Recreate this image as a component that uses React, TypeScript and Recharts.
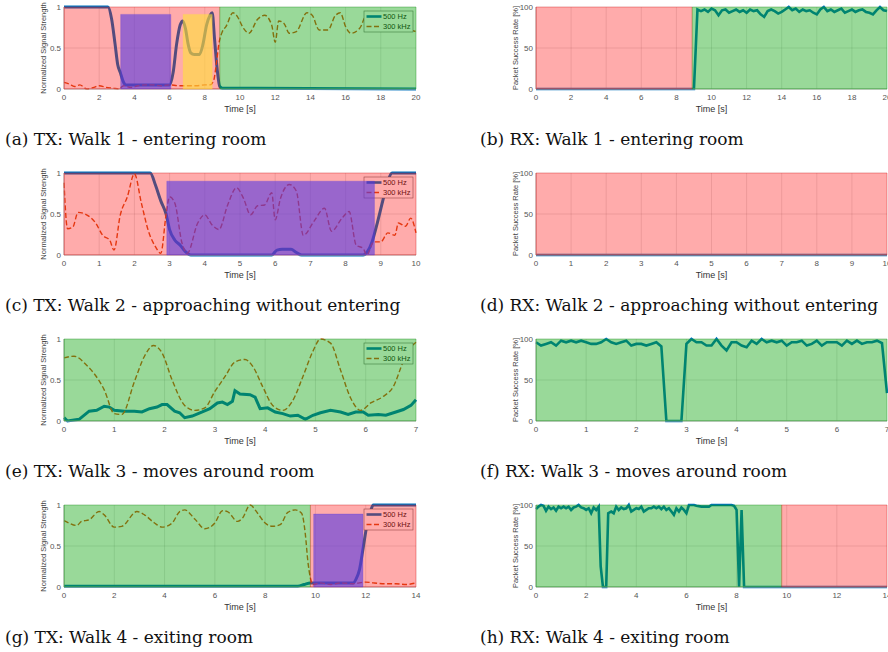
import React from "react";
import * as Recharts from "recharts";
import { CartesianGrid, ComposedChart, Line, ReferenceArea, XAxis, YAxis } from "recharts";

type Pt = [number, number];
type ZoneKind = "red" | "green" | "purple" | "yellow";
type Zone = { from: number; to: number; top?: number; kind: ZoneKind };

// ---- data ----
const ticks20 = [0, 2, 4, 6, 8, 10, 12, 14, 16, 18, 20];
const ticks10 = [0, 1, 2, 3, 4, 5, 6, 7, 8, 9, 10];
const ticks7 = [0, 1, 2, 3, 4, 5, 6, 7];
const ticks14 = [0, 2, 4, 6, 8, 10, 12, 14];
const txTicksY = [0, 0.5, 1];
const rxTicksY = [0, 50, 100];

const txWalk1Low: Pt[] = [
  [0, 1], [2.5, 1], [2.7, 0.86], [2.9, 0.55], [3.05, 0.3], [3.2, 0.2], [3.35, 0.1], [3.5, 0.05],
  [4.5, 0.05], [6.0, 0.05], [6.2, 0.2], [6.4, 0.55], [6.6, 0.78], [6.75, 0.83], [6.9, 0.74],
  [7.05, 0.55], [7.2, 0.44], [7.4, 0.42], [7.7, 0.42], [7.9, 0.55], [8.1, 0.78], [8.3, 0.9],
  [8.42, 0.93], [8.55, 0.62], [8.7, 0.25], [8.85, 0.03], [9.0, 0.01], [20, 0.0],
];
const txWalk1High: Pt[] = [
  [0, 0.08], [0.3, 0.06], [0.6, 0.03], [0.9, 0.05], [1.3, 0.0], [1.7, 0.02], [2.0, 0.04], [2.4, 0.02],
  [2.8, 0.01], [3.1, 0.0], [3.4, 0.04], [3.8, 0.02], [4.2, 0.04], [4.6, 0.05], [5.0, 0.05], [5.5, 0.04],
  [6.0, 0.05], [6.5, 0.04], [7.0, 0.04], [7.5, 0.04], [8.0, 0.05], [8.3, 0.05], [8.5, 0.1], [8.65, 0.3],
  [8.8, 0.55], [9.0, 0.7], [9.2, 0.76], [9.6, 0.93], [9.8, 0.9], [10.2, 0.74], [10.5, 0.68], [11.0, 0.85],
  [11.4, 0.9], [11.8, 0.78], [12.0, 0.57], [12.2, 0.83], [12.5, 0.8], [12.8, 0.68], [13.2, 0.7],
  [13.8, 0.93], [14.1, 0.9], [14.5, 0.72], [15.0, 0.72], [15.4, 0.89], [15.7, 0.93], [16.0, 0.76],
  [16.3, 0.68], [16.8, 0.74], [17.3, 0.95], [17.6, 0.9], [18.2, 0.84], [18.8, 0.78], [19.4, 0.74], [20, 0.7],
];
const txWalk1Zones: Zone[] = [
  { from: 0, to: 8.85, kind: "red" },
  { from: 8.85, to: 20, kind: "green" },
  { from: 3.22, to: 6.07, top: 0.91, kind: "purple" },
  { from: 6.77, to: 8.42, top: 0.91, kind: "yellow" },
];

const rxWalk1: Pt[] = [
  [0, 0], [9.0, 0], [9.2, 97], [9.4, 95], [9.6, 97], [9.8, 94], [10.0, 98], [10.2, 96], [10.4, 90],
  [10.6, 96], [10.8, 97], [11.0, 93], [11.2, 95], [11.4, 97], [11.6, 94], [11.8, 96], [12.0, 93],
  [12.2, 97], [12.4, 95], [12.6, 96], [12.8, 91], [13.0, 88], [13.2, 95], [13.4, 97], [13.6, 95],
  [13.8, 92], [14.0, 94], [14.2, 97], [14.4, 100], [14.6, 96], [14.8, 98], [15.0, 94], [15.2, 97],
  [15.4, 95], [15.6, 96], [15.8, 93], [16.0, 91], [16.2, 97], [16.4, 100], [16.6, 95], [16.8, 97],
  [17.0, 94], [17.2, 96], [17.4, 98], [17.6, 93], [17.8, 95], [18.0, 97], [18.2, 94], [18.4, 96],
  [18.6, 97], [18.8, 94], [19.0, 93], [19.2, 91], [19.4, 96], [19.6, 100], [19.8, 96], [20, 95],
];
const rxWalk1Zones: Zone[] = [
  { from: 0, to: 8.9, kind: "red" },
  { from: 8.9, to: 20, kind: "green" },
];

const txWalk2Low: Pt[] = [
  [0, 1], [2.45, 1], [2.6, 0.85], [2.75, 0.66], [2.9, 0.5], [3.0, 0.31], [3.15, 0.18], [3.3, 0.12],
  [3.45, 0.04], [3.6, 0.0], [5.9, 0.0], [6.05, 0.06], [6.2, 0.07], [6.45, 0.07], [6.6, 0.03],
  [6.75, 0.0], [8.5, 0.0], [8.62, 0.04], [8.75, 0.16], [8.9, 0.39], [9.05, 0.65], [9.2, 0.9],
  [9.32, 1.0], [10, 1.0],
];
const txWalk2High: Pt[] = [
  [0, 0.88], [0.1, 0.32], [0.25, 0.34], [0.4, 0.52], [0.6, 0.5], [0.9, 0.39], [1.1, 0.24], [1.3, 0.18],
  [1.42, 0.06], [1.6, 0.49], [1.8, 0.71], [2.0, 0.99], [2.2, 0.63], [2.4, 0.29], [2.6, 0.1], [2.75, 0.02],
  [2.9, 0.49], [3.0, 0.71], [3.15, 0.63], [3.35, 0.15], [3.5, 0.02], [3.8, 0.39], [4.0, 0.49], [4.2, 0.37],
  [4.4, 0.31], [4.65, 0.61], [4.9, 0.82], [5.1, 0.69], [5.3, 0.49], [5.5, 0.6], [5.7, 0.61], [5.9, 0.76],
  [6.0, 0.43], [6.15, 0.69], [6.4, 0.86], [6.6, 0.78], [6.8, 0.24], [7.1, 0.41], [7.4, 0.57], [7.6, 0.29],
  [7.9, 0.45], [8.1, 0.53], [8.3, 0.12], [8.5, 0.08], [8.6, 0.0], [8.8, 0.16], [9.0, 0.16], [9.2, 0.27],
  [9.4, 0.24], [9.5, 0.39], [9.7, 0.35], [9.85, 0.45], [10, 0.27],
];
const txWalk2Zones: Zone[] = [
  { from: 0, to: 10, kind: "red" },
  { from: 2.92, to: 8.82, top: 0.9, kind: "purple" },
];

const rxWalk2: Pt[] = [[0, 0], [10, 0]];
const rxWalk2Zones: Zone[] = [{ from: 0, to: 10, kind: "red" }];

const txWalk3Low: Pt[] = [
  [0, 0.04], [0.07, 0.0], [0.3, 0.02], [0.5, 0.12], [0.65, 0.13], [0.8, 0.18], [0.9, 0.17], [1.0, 0.13],
  [1.2, 0.12], [1.4, 0.12], [1.55, 0.11], [1.7, 0.15], [1.85, 0.17], [1.95, 0.2], [2.05, 0.2], [2.2, 0.12],
  [2.3, 0.1], [2.4, 0.04], [2.55, 0.06], [2.75, 0.11], [2.9, 0.15], [3.05, 0.22], [3.15, 0.23], [3.25, 0.2],
  [3.35, 0.24], [3.4, 0.37], [3.5, 0.33], [3.7, 0.32], [3.8, 0.29], [3.9, 0.15], [4.05, 0.16], [4.2, 0.11],
  [4.35, 0.09], [4.5, 0.06], [4.65, 0.07], [4.8, 0.02], [4.95, 0.07], [5.1, 0.1], [5.3, 0.13], [5.5, 0.11],
  [5.65, 0.08], [5.8, 0.11], [5.95, 0.11], [6.05, 0.07], [6.25, 0.08], [6.4, 0.07], [6.6, 0.11],
  [6.75, 0.14], [6.9, 0.19], [7.0, 0.26],
];
const txWalk3High: Pt[] = [
  [0, 0.77], [0.2, 0.79], [0.45, 0.68], [0.8, 0.38], [1.0, 0.09], [1.15, 0.08], [1.4, 0.48], [1.6, 0.79],
  [1.78, 0.92], [1.95, 0.83], [2.15, 0.5], [2.4, 0.19], [2.6, 0.13], [2.8, 0.16], [3.0, 0.36], [3.2, 0.54],
  [3.4, 0.72], [3.6, 0.75], [3.75, 0.67], [3.95, 0.42], [4.15, 0.19], [4.35, 0.13], [4.55, 0.25],
  [4.75, 0.54], [4.95, 0.85], [5.1, 1.0], [5.3, 0.95], [5.5, 0.62], [5.7, 0.28], [5.9, 0.13], [6.1, 0.22],
  [6.35, 0.3], [6.55, 0.42], [6.75, 0.73], [6.9, 0.9], [7.0, 0.96],
];
const txWalk3Zones: Zone[] = [{ from: 0, to: 7, kind: "green" }];

const rxWalk3: Pt[] = [
  [0, 96], [0.1, 92], [0.2, 94], [0.3, 96], [0.4, 92], [0.5, 98], [0.6, 96], [0.7, 98], [0.8, 96],
  [0.9, 98], [1.0, 96], [1.1, 94], [1.2, 94], [1.3, 96], [1.4, 100], [1.5, 96], [1.6, 94], [1.7, 96],
  [1.8, 98], [1.9, 92], [2.0, 94], [2.1, 94], [2.2, 92], [2.3, 94], [2.4, 96], [2.5, 91], [2.6, 0],
  [2.9, 0], [3.0, 94], [3.1, 100], [3.2, 96], [3.3, 96], [3.4, 92], [3.5, 92], [3.6, 100], [3.7, 92],
  [3.8, 86], [3.9, 96], [4.0, 96], [4.1, 92], [4.2, 90], [4.3, 98], [4.4, 94], [4.5, 100], [4.6, 96],
  [4.7, 98], [4.8, 96], [4.9, 98], [5.0, 92], [5.1, 96], [5.2, 96], [5.3, 98], [5.4, 92], [5.5, 94],
  [5.6, 98], [5.7, 92], [5.8, 96], [5.9, 96], [6.0, 96], [6.1, 92], [6.2, 98], [6.3, 94], [6.4, 98],
  [6.5, 94], [6.6, 96], [6.7, 96], [6.8, 98], [6.9, 95], [7.0, 34],
];
const rxWalk3Zones: Zone[] = [{ from: 0, to: 7, kind: "green" }];

const txWalk4Low: Pt[] = [
  [0, 0.01], [9.3, 0.01], [9.55, 0.03], [9.8, 0.05], [11.5, 0.05], [11.62, 0.1], [11.75, 0.21],
  [11.9, 0.48], [12.05, 0.76], [12.2, 0.93], [12.3, 1.0], [14, 1.0],
];
const txWalk4High: Pt[] = [
  [0, 0.81], [0.2, 0.78], [0.5, 0.75], [0.7, 0.8], [1.0, 0.82], [1.4, 0.92], [1.6, 0.88], [2.0, 0.73],
  [2.3, 0.74], [2.9, 0.92], [3.2, 0.88], [3.6, 0.78], [3.9, 0.73], [4.3, 0.78], [4.6, 0.92], [4.8, 0.94],
  [5.2, 0.83], [5.6, 0.71], [6.0, 0.78], [6.3, 0.93], [6.5, 0.92], [6.9, 0.8], [7.1, 0.84], [7.4, 1.0],
  [7.7, 0.9], [8.0, 0.78], [8.3, 0.74], [8.6, 0.76], [8.9, 0.91], [9.2, 0.94], [9.45, 0.9], [9.6, 0.64],
  [9.7, 0.31], [9.8, 0.11], [9.9, 0.03], [10.2, 0.05], [10.6, 0.03], [11.0, 0.05], [11.5, 0.04],
  [12.0, 0.06], [12.3, 0.05], [12.8, 0.04], [13.2, 0.04], [13.6, 0.03], [14, 0.05],
];
const txWalk4Zones: Zone[] = [
  { from: 0, to: 9.8, kind: "green" },
  { from: 9.8, to: 14, kind: "red" },
  { from: 9.93, to: 11.89, top: 0.89, kind: "purple" },
];

const rxWalk4: Pt[] = [
  [0, 95], [0.1, 98], [0.2, 100], [0.3, 99], [0.4, 93], [0.5, 98], [0.6, 95], [0.7, 97], [0.8, 93],
  [0.9, 98], [1.0, 96], [1.1, 98], [1.2, 96], [1.3, 98], [1.4, 94], [1.5, 97], [1.6, 98], [1.7, 100],
  [1.8, 97], [1.9, 96], [2.0, 94], [2.1, 96], [2.2, 90], [2.3, 97], [2.4, 94], [2.5, 98], [2.58, 25],
  [2.67, 0], [2.8, 0], [2.88, 90], [3.0, 92], [3.1, 90], [3.2, 98], [3.3, 94], [3.4, 97], [3.5, 95],
  [3.6, 96], [3.7, 100], [3.8, 92], [3.9, 94], [4.0, 96], [4.1, 95], [4.2, 98], [4.3, 92], [4.4, 94],
  [4.5, 96], [4.6, 96], [4.7, 98], [4.8, 96], [4.9, 98], [5.0, 95], [5.1, 98], [5.2, 94], [5.3, 96],
  [5.4, 92], [5.5, 88], [5.6, 96], [5.7, 92], [5.8, 97], [5.9, 94], [6.0, 90], [6.1, 100], [6.3, 100],
  [6.4, 99], [6.6, 98], [6.9, 98], [7.0, 100], [7.8, 100], [7.9, 99], [8.0, 94], [8.1, 0], [8.2, 94],
  [8.3, 0], [14, 0],
];
const rxWalk4Zones: Zone[] = [
  { from: 0, to: 9.8, kind: "green" },
  { from: 9.8, to: 14, kind: "red" },
];

// ---- styling ----
const BLUE = "#0072bd";
const ORANGE = "#d95319";
const ZONE_STYLE: Record<ZoneKind, { fill: string; opacity: number }> = {
  red: { fill: "#ff0000", opacity: 0.33 },
  green: { fill: "#00a000", opacity: 0.4 },
  purple: { fill: "#5539e3", opacity: 0.6 },
  yellow: { fill: "#ffe339", opacity: 0.6 },
};

// z-index layers exist only in newer recharts 3 builds
const ZLayer: any = (Recharts as any).ZIndexLayer;

type Series = { pts: Pt[]; color: string; width: number; dash?: string; curve: "monotone" | "linear" };

const toRows = (pts: Pt[]) => pts.map(([t, v]) => ({ t, v }));

function LegendBox() {
  const body = (
    <g>
      <rect x={364} y={11} width={49} height={21} fill="#fff" stroke="#666" strokeWidth={0.6} />
      <line x1={366.5} x2={381.5} y1={16.5} y2={16.5} stroke={BLUE} strokeWidth={2.6} />
      <text x={383} y={19.2} fontSize={7.5} fill="#222">500 Hz</text>
      <line x1={366.5} x2={381.5} y1={26.5} y2={26.5} stroke={ORANGE} strokeWidth={1.4} strokeDasharray="5 2.5" />
      <text x={383} y={29.2} fontSize={7.5} fill="#222">300 kHz</text>
    </g>
  );
  return ZLayer ? <ZLayer zIndex={500}>{body}</ZLayer> : body;
}

type PanelProps = {
  left: number;
  top: number;
  side: "tx" | "rx";
  xMax: number;
  xTicks: number[];
  series: Series[];
  zones: Zone[];
};

function Panel({ left, top, side, xMax, xTicks, series, zones }: PanelProps) {
  const isTx = side === "tx";
  const width = isTx ? 430 : 418;
  const yMax = isTx ? 1 : 100;
  return (
    <div style={{ position: "absolute", left, top, width, height: 120 }}>
      <ComposedChart width={width} height={120} margin={{ top: 7, right: isTx ? 14 : 1, bottom: 1, left: 0 }}>
        <CartesianGrid stroke="#000" strokeOpacity={0.1} />
        <XAxis
          type="number"
          dataKey="t"
          domain={[0, xMax]}
          ticks={xTicks}
          interval={0}
          height={30}
          tickLine={false}
          tickSize={0}
          tickMargin={5}
          axisLine={{ stroke: "#aaa" }}
          tick={{ fontSize: 8, fill: "#555" }}
          label={{ value: "Time [s]", position: "insideBottom", offset: 7, fontSize: 9, fill: "#333" }}
        />
        <YAxis
          type="number"
          domain={[0, yMax]}
          ticks={isTx ? txTicksY : rxTicksY}
          interval={0}
          width={isTx ? 64 : 66}
          tickLine={false}
          tickSize={0}
          tickMargin={3}
          axisLine={{ stroke: "#aaa" }}
          tick={{ fontSize: 8, fill: "#555" }}
          label={{
            value: isTx ? "Normalized Signal Strength" : "Packet Success Rate [%]",
            angle: -90,
            position: "insideLeft",
            offset: isTx ? 43 : 45,
            fontSize: 7.5,
            fill: "#444",
            style: { textAnchor: "middle" },
          }}
        />
        {series.map((s, i) => (
          <Line
            key={i}
            data={toRows(s.pts)}
            dataKey="v"
            type={s.curve}
            stroke={s.color}
            strokeWidth={s.width}
            strokeDasharray={s.dash}
            dot={false}
            activeDot={false}
            isAnimationActive={false}
          />
        ))}
        {isTx && <LegendBox />}
        {zones.map((z, i) => {
          const st = ZONE_STYLE[z.kind];
          return (
            <ReferenceArea
              key={"z" + i}
              x1={z.from}
              x2={z.to}
              y1={0}
              y2={(z.top ?? 1) * yMax}
              fill={st.fill}
              fillOpacity={st.opacity}
              stroke={st.fill}
              strokeOpacity={0.25}
              zIndex={600}
            />
          );
        })}
      </ComposedChart>
    </div>
  );
}

const low = (pts: Pt[], curve: "monotone" | "linear" = "monotone"): Series => ({ pts, color: BLUE, width: 3, curve });
const high = (pts: Pt[]): Series => ({ pts, color: ORANGE, width: 1.4, dash: "5 2.5", curve: "monotone" });
const rx = (pts: Pt[]): Series => ({ pts, color: BLUE, width: 2.6, curve: "linear" });

const captionStyle: React.CSSProperties = {
  position: "absolute",
  fontFamily: "'DejaVu Serif', serif",
  fontSize: 17,
  lineHeight: "20px",
  color: "#111",
  whiteSpace: "nowrap",
};

export default function App() {
  const rows = [0, 166, 332, 498];
  return (
    <div
      style={{
        position: "absolute",
        left: 0,
        top: 0,
        width: 888,
        height: 652,
        background: "#fff",
        overflow: "hidden",
        fontFamily: "'Liberation Sans', Arial, sans-serif",
      }}
    >
      <Panel left={0} top={rows[0]} side="tx" xMax={20} xTicks={ticks20} series={[low(txWalk1Low), high(txWalk1High)]} zones={txWalk1Zones} />
      <Panel left={470} top={rows[0]} side="rx" xMax={20} xTicks={ticks20} series={[rx(rxWalk1)]} zones={rxWalk1Zones} />
      <Panel left={0} top={rows[1]} side="tx" xMax={10} xTicks={ticks10} series={[low(txWalk2Low), high(txWalk2High)]} zones={txWalk2Zones} />
      <Panel left={470} top={rows[1]} side="rx" xMax={10} xTicks={ticks10} series={[rx(rxWalk2)]} zones={rxWalk2Zones} />
      <Panel left={0} top={rows[2]} side="tx" xMax={7} xTicks={ticks7} series={[low(txWalk3Low, "linear"), high(txWalk3High)]} zones={txWalk3Zones} />
      <Panel left={470} top={rows[2]} side="rx" xMax={7} xTicks={ticks7} series={[rx(rxWalk3)]} zones={rxWalk3Zones} />
      <Panel left={0} top={rows[3]} side="tx" xMax={14} xTicks={ticks14} series={[low(txWalk4Low), high(txWalk4High)]} zones={txWalk4Zones} />
      <Panel left={470} top={rows[3]} side="rx" xMax={14} xTicks={ticks14} series={[rx(rxWalk4)]} zones={rxWalk4Zones} />

      <div style={{ ...captionStyle, left: 5, top: rows[0] + 129 }}>(a) TX: Walk 1 - entering room</div>
      <div style={{ ...captionStyle, left: 480, top: rows[0] + 129 }}>(b) RX: Walk 1 - entering room</div>
      <div style={{ ...captionStyle, left: 5, top: rows[1] + 129 }}>(c) TX: Walk 2 - approaching without entering</div>
      <div style={{ ...captionStyle, left: 480, top: rows[1] + 129 }}>(d) RX: Walk 2 - approaching without entering</div>
      <div style={{ ...captionStyle, left: 5, top: rows[2] + 129 }}>(e) TX: Walk 3 - moves around room</div>
      <div style={{ ...captionStyle, left: 480, top: rows[2] + 129 }}>(f) RX: Walk 3 - moves around room</div>
      <div style={{ ...captionStyle, left: 5, top: rows[3] + 129 }}>(g) TX: Walk 4 - exiting room</div>
      <div style={{ ...captionStyle, left: 480, top: rows[3] + 129 }}>(h) RX: Walk 4 - exiting room</div>
    </div>
  );
}
